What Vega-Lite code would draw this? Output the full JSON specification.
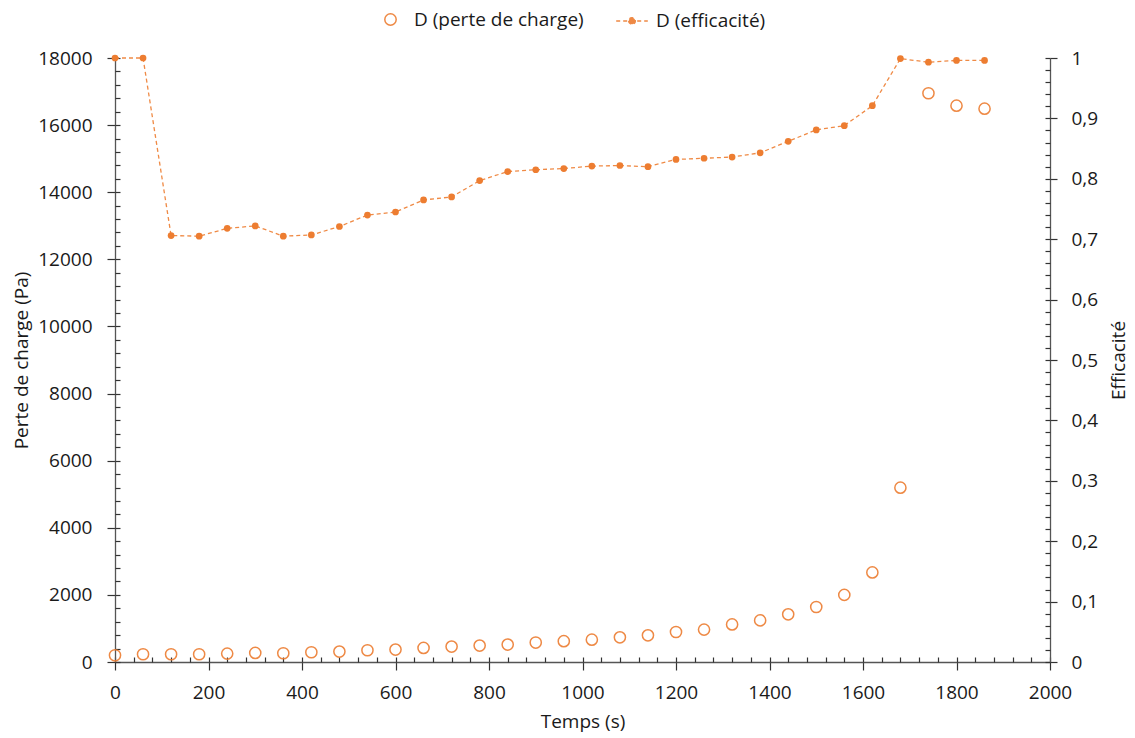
{
  "$schema": "https://vega.github.io/schema/vega-lite/v6.json",
  "width": 935,
  "height": 604,
  "autosize": "none",
  "padding": {"left": 115, "top": 58, "right": 85, "bottom": 76},
  "background": "white",
  "config": {
    "view": {"stroke": null},
    "font": "Open Sans",
    "axis": {
      "labelFont": "Open Sans",
      "titleFont": "Open Sans",
      "labelFontSize": 19,
      "titleFontSize": 19,
      "labelColor": "#1a1a1a",
      "titleColor": "#1a1a1a",
      "titleFontWeight": "normal",
      "domainColor": "#555555",
      "domainWidth": 1.3,
      "tickColor": "#333333",
      "tickWidth": 1.2,
      "grid": false
    },
    "legend": {
      "labelFont": "Open Sans",
      "labelFontSize": 19,
      "labelColor": "#1a1a1a",
      "labelLimit": 400,
      "title": null
    }
  },
  "data": {
    "values": [
      {"t": 0, "perte": 200, "efficacite": 1.0},
      {"t": 60, "perte": 230, "efficacite": 1.0},
      {"t": 120, "perte": 230, "efficacite": 0.706},
      {"t": 180, "perte": 230, "efficacite": 0.705},
      {"t": 240, "perte": 250, "efficacite": 0.718},
      {"t": 300, "perte": 270, "efficacite": 0.722},
      {"t": 360, "perte": 260, "efficacite": 0.705},
      {"t": 420, "perte": 290, "efficacite": 0.707},
      {"t": 480, "perte": 310, "efficacite": 0.721},
      {"t": 540, "perte": 350, "efficacite": 0.740},
      {"t": 600, "perte": 370, "efficacite": 0.745},
      {"t": 660, "perte": 420, "efficacite": 0.765},
      {"t": 720, "perte": 460, "efficacite": 0.770},
      {"t": 780, "perte": 490, "efficacite": 0.797},
      {"t": 840, "perte": 520, "efficacite": 0.812},
      {"t": 900, "perte": 580, "efficacite": 0.815},
      {"t": 960, "perte": 620, "efficacite": 0.817},
      {"t": 1020, "perte": 665, "efficacite": 0.821},
      {"t": 1080, "perte": 735, "efficacite": 0.822},
      {"t": 1140, "perte": 795, "efficacite": 0.820},
      {"t": 1200, "perte": 895, "efficacite": 0.832},
      {"t": 1260, "perte": 965, "efficacite": 0.834},
      {"t": 1320, "perte": 1120, "efficacite": 0.836},
      {"t": 1380, "perte": 1240, "efficacite": 0.843},
      {"t": 1440, "perte": 1420, "efficacite": 0.862},
      {"t": 1500, "perte": 1640, "efficacite": 0.881},
      {"t": 1560, "perte": 2000, "efficacite": 0.888},
      {"t": 1620, "perte": 2670, "efficacite": 0.921},
      {"t": 1680, "perte": 5195, "efficacite": 0.999},
      {"t": 1740, "perte": 16950, "efficacite": 0.993},
      {"t": 1800, "perte": 16580, "efficacite": 0.996},
      {"t": 1860, "perte": 16490, "efficacite": 0.996}
    ]
  },
  "layer": [
    {
      "mark": {"type": "point", "filled": false, "size": 125, "strokeWidth": 1.5, "opacity": 0.9},
      "encoding": {
        "x": {
          "field": "t", "type": "quantitative",
          "scale": {"domain": [0, 2000], "nice": false},
          "axis": {
            "orient": "bottom",
            "values": [0, 200, 400, 600, 800, 1000, 1200, 1400, 1600, 1800, 2000],
            "format": "d",
            "tickSize": 8, "labelPadding": 13, "title": "Temps (s)", "titlePadding": 10,
            "labelFlush": false
          }
        },
        "y": {
          "field": "perte", "type": "quantitative",
          "scale": {"domain": [0, 18000], "nice": false},
          "axis": {
            "orient": "left",
            "values": [0, 2000, 4000, 6000, 8000, 10000, 12000, 14000, 16000, 18000],
            "format": "d",
            "tickSize": 8, "labelPadding": 15,
            "title": "Perte de charge (Pa)", "titlePadding": 6
          }
        },
        "color": {
          "datum": "D (perte de charge)", "type": "nominal",
          "scale": {"domain": ["D (perte de charge)"], "range": ["#ED7D31"]},
          "legend": {
            "orient": "none", "legendX": 266, "legendY": -48,
            "symbolType": "circle", "symbolSize": 130, "symbolStrokeWidth": 1.5,
            "labelOffset": 14
          }
        }
      }
    },
    {
      "mark": {"type": "line", "color": "#ED7D31", "strokeWidth": 1.3, "opacity": 0.9},
      "encoding": {
        "x": {"field": "t", "type": "quantitative", "axis": null},
        "y": {
          "field": "efficacite", "type": "quantitative",
          "scale": {"domain": [0, 1], "nice": false},
          "axis": {
            "orient": "right",
            "values": [0, 0.1, 0.2, 0.3, 0.4, 0.5, 0.6, 0.7, 0.8, 0.9, 1],
            "labelExpr": "replace(format(datum.value, '.1~f'), '.', ',')",
            "tickSize": 7, "labelPadding": 14,
            "title": "Efficacité", "titleAngle": 270, "titleBaseline": "top", "titlePadding": 12
          }
        },
        "strokeDash": {
          "datum": "D (efficacité)", "type": "nominal",
          "scale": {"domain": ["D (efficacité)"], "range": [[4, 3]]},
          "legend": {
            "orient": "none", "legendX": 500, "legendY": -54,
            "symbolType": "M-1,0H1M-0.21,0A0.21,0.21,0,1,0,0.21,0A0.21,0.21,0,1,0,-0.21,0Z",
            "symbolSize": 1000, "symbolStrokeWidth": 1.5,
            "symbolStrokeColor": "#ED7D31", "symbolFillColor": "#ED7D31",
            "labelOffset": 7
          }
        }
      }
    },
    {
      "mark": {"type": "point", "filled": true, "size": 45, "color": "#ED7D31", "opacity": 1},
      "encoding": {
        "x": {"field": "t", "type": "quantitative", "axis": null},
        "y": {
          "field": "efficacite", "type": "quantitative",
          "scale": {"domain": [0, 1], "nice": false},
          "axis": null
        }
      }
    },
    {
      "mark": {"type": "point", "opacity": 0},
      "encoding": {
        "x": {
          "field": "t", "type": "quantitative",
          "axis": {
            "orient": "bottom",
            "values": [0, 40, 80, 120, 160, 200, 240, 280, 320, 360, 400, 440, 480, 520, 560, 600, 640, 680, 720, 760, 800, 840, 880, 920, 960, 1000, 1040, 1080, 1120, 1160, 1200, 1240, 1280, 1320, 1360, 1400, 1440, 1480, 1520, 1560, 1600, 1640, 1680, 1720, 1760, 1800, 1840, 1880, 1920, 1960, 2000],
            "tickSize": -5, "labels": false, "domain": false, "title": null
          }
        },
        "y": {
          "field": "perte", "type": "quantitative",
          "scale": {"domain": [0, 18000], "nice": false},
          "axis": {
            "orient": "left",
            "values": [0, 400, 800, 1200, 1600, 2000, 2400, 2800, 3200, 3600, 4000, 4400, 4800, 5200, 5600, 6000, 6400, 6800, 7200, 7600, 8000, 8400, 8800, 9200, 9600, 10000, 10400, 10800, 11200, 11600, 12000, 12400, 12800, 13200, 13600, 14000, 14400, 14800, 15200, 15600, 16000, 16400, 16800, 17200, 17600, 18000],
            "tickSize": -5, "labels": false, "domain": false, "title": null
          }
        }
      }
    },
    {
      "mark": {"type": "point", "opacity": 0},
      "encoding": {
        "x": {"field": "t", "type": "quantitative", "axis": null},
        "y": {
          "field": "efficacite", "type": "quantitative",
          "scale": {"domain": [0, 1], "nice": false},
          "axis": {
            "orient": "right",
            "values": [0, 0.02, 0.04, 0.06, 0.08, 0.1, 0.12, 0.14, 0.16, 0.18, 0.2, 0.22, 0.24, 0.26, 0.28, 0.3, 0.32, 0.34, 0.36, 0.38, 0.4, 0.42, 0.44, 0.46, 0.48, 0.5, 0.52, 0.54, 0.56, 0.58, 0.6, 0.62, 0.64, 0.66, 0.68, 0.7, 0.72, 0.74, 0.76, 0.78, 0.8, 0.82, 0.84, 0.86, 0.88, 0.9, 0.92, 0.94, 0.96, 0.98, 1],
            "tickSize": -5, "labels": false, "domain": false, "title": null
          }
        }
      }
    }
  ],
  "resolve": {
    "scale": {"y": "independent"},
    "axis": {"x": "independent", "y": "independent"}
  }
}
